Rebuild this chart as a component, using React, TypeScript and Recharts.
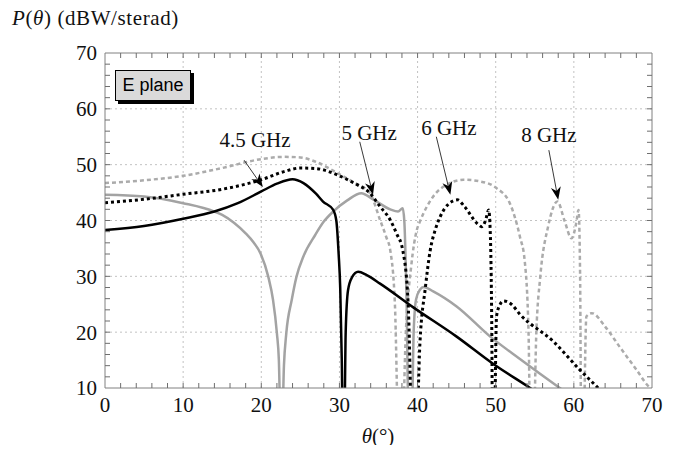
import React from 'react';
import { LineChart, Line, XAxis, YAxis, ReferenceLine, ReferenceDot } from 'recharts';

const SERIF = '"Liberation Serif", "DejaVu Serif", serif';
const SANS = '"Liberation Sans", Arial, sans-serif';
const W = 668;
const H = 437;
const M = { top: 45, right: 24, bottom: 27, left: 47 };
const X_AXIS_H = 30;
const Y_AXIS_W = 50;
const PLOT_L = M.left + Y_AXIS_W;
const PLOT_T = M.top;
const PLOT_W = W - M.left - M.right - Y_AXIS_W;
const PLOT_H = H - M.top - M.bottom - X_AXIS_H;
const FRAME = '#808080';
const TICK_COLOR = '#6e6e6e';
const GRID = '#c2c2c2';
const TICK_LEN = 5;

// axis ticks
const xMajor = [0, 10, 20, 30, 40, 50, 60, 70];
const yMajor = [10, 20, 30, 40, 50, 60, 70];
const xMinor = [2, 4, 6, 8, 10, 12, 14, 16, 18, 20, 22, 24, 26, 28, 30, 32, 34, 36, 38, 40, 42, 44, 46, 48, 50, 52, 54, 56, 58, 60, 62, 64, 66, 68];
const yMinor = [12, 14, 16, 18, 20, 22, 24, 26, 28, 30, 32, 34, 36, 38, 40, 42, 44, 46, 48, 50, 52, 54, 56, 58, 60, 62, 64, 66, 68];
const xGrid = [10, 20, 30, 40, 50, 60];
const yGrid = [20, 30, 40, 50, 60];
const X_DOMAIN = [0, 70];
const Y_DOMAIN = [10, 70];

// [theta (deg), P (dBW/sterad)]; values below 10 fall off the axis (nulls)
const f45 = [
  [0, 38.3], [5, 39], [10, 40.3], [14, 41.6], [17, 43.1], [20, 45.2], [22, 46.6], [24, 47.4],
  [25.4, 46.7], [27, 44.8], [27.9, 43.4], [29.2, 41.9], [29.6, 40], [29.9, 34], [30.1, 28],
  [30.3, 15], [30.45, 0], [30.6, 0], [30.8, 20], [31.1, 27.5], [31.6, 29.8], [32.4, 30.8],
  [33.5, 30.2], [35.2, 28.7], [39.5, 24.4], [45, 19.2], [49.7, 14.3], [54.4, 10], [56, 8.5],
];
const f5 = [
  [0, 44.6], [5, 44.3], [10, 43.1], [14, 41.6], [15, 41], [16.5, 39.6], [18, 37.7], [19, 36.1],
  [19.9, 34.1], [20.9, 29.9], [21.5, 25.8], [22, 19.8], [22.25, 15], [22.45, 5], [22.7, 5],
  [22.9, 14], [23.2, 19.8], [23.9, 25.8], [24.5, 29.9], [25.4, 33.6], [26.9, 37.4], [28, 39.8],
  [29.2, 41.6], [31, 43.6], [32.8, 44.9], [34.3, 43.8], [36.5, 42], [37.5, 41.6], [38.1, 42.2],
  [38.3, 40], [38.6, 25], [38.9, 0], [39.2, 0], [39.5, 20], [39.8, 25.8], [40.3, 27.6],
  [40.8, 28.1], [42, 27.3], [45, 24.6], [49.3, 19.2], [53.1, 15.2], [58.2, 10], [59, 9.2],
];
const f6 = [
  [0, 43.2], [5, 43.8], [10, 44.7], [15, 45.6], [20, 47.3], [23, 48.8], [25, 49.4], [27, 49.3],
  [30, 48], [32, 46.6], [33.9, 44.9], [35.2, 42.5], [36.5, 40.1], [37.3, 37.7], [38.1, 34.7],
  [38.8, 25], [39.35, 0], [39.8, 0], [40.3, 18], [41, 28], [41.6, 34.5], [42.3, 38.5],
  [42.9, 40.7], [44, 43], [45.1, 43.7], [46, 42.5], [47.6, 39.5], [48.2, 38.9], [48.7, 40],
  [49.1, 41.9], [49.3, 38], [49.5, 20], [49.6, 0], [49.8, 0], [50.1, 22.8], [50.5, 24.8],
  [51, 25.6], [52, 25], [53.1, 23.2], [57.4, 18.3], [60.8, 13.2], [63.1, 10], [64, 8.7],
];
const f8 = [
  [0, 46.7], [5, 47.2], [10, 48], [15, 49.4], [20, 51], [23, 51.4], [25, 51.3], [27, 50.5],
  [30.1, 48.2], [32, 46.7], [33.9, 44.9], [35.2, 40.1], [36, 37], [36.5, 34.7], [37.1, 25],
  [37.6, 0], [38, 0], [38.5, 20], [39.2, 32], [39.9, 38.3], [40.3, 39.8], [42, 44.3], [44, 46.6],
  [45.9, 47.3], [48, 47], [50.1, 45.8], [51.8, 43.1], [53.1, 37.1], [53.7, 32.9], [54.2, 20],
  [54.45, 0], [54.8, 0], [55.2, 20], [55.7, 29.9], [56.7, 38.9], [57.9, 43.4], [58.8, 40],
  [59.7, 36.8], [60.3, 39.5], [60.6, 41.9], [60.8, 30], [60.95, 0], [61.2, 0], [61.6, 22.8],
  [62.3, 23.4], [64, 21], [65.9, 17.3], [68, 13.3], [69.5, 10.4], [70, 9.8],
];

const toRows = (a: number[][]) => a.map(([t, p]) => ({ t, p }));

// arrow annotations in data units: label position, arrow tail, arrow tip
const notes = [
  { text: '4.5 GHz', lt: 19.2, lp: 54.4, t1: 17.8, p1: 50.8, t2: 20.2, p2: 46.0 },
  { text: '5 GHz', lt: 33.8, lp: 55.7, t1: 32.6, p1: 54.1, t2: 34.3, p2: 44.6 },
  { text: '6 GHz', lt: 44.0, lp: 56.6, t1: 42.4, p1: 55.0, t2: 44.2, p2: 44.6 },
  { text: '8 GHz', lt: 56.8, lp: 55.3, t1: 56.8, p1: 52.6, t2: 58.0, p2: 43.7 },
];

const Arrow = (props: any) => {
  const { x1, y1, x2, y2 } = props;
  const dx = x2 - x1;
  const dy = y2 - y1;
  const len = Math.hypot(dx, dy) || 1;
  const ux = dx / len;
  const uy = dy / len;
  const L = 13;
  const hw = 5;
  const bx = x2 - ux * L;
  const by = y2 - uy * L;
  const nx = x2 - ux * L * 0.7;
  const ny = y2 - uy * L * 0.7;
  return (
    <g>
      <line x1={x1} y1={y1} x2={nx} y2={ny} stroke="#222" strokeWidth={0.9} />
      <path
        d={`M${x2},${y2} L${bx - uy * hw},${by + ux * hw} L${nx},${ny} L${bx + uy * hw},${by - ux * hw} Z`}
        fill="#000"
      />
    </g>
  );
};

const NoteText = (text: string) => (props: any) => (
  <text x={props.cx} y={props.cy} textAnchor="middle" dominantBaseline="central"
    fontFamily={SERIF} fontSize={21} fill="#111">{text}</text>
);

// inward frame ticks, laid out with the same linear mapping as the chart's axes
const sx = (v: number) => PLOT_L + ((v - X_DOMAIN[0]) / (X_DOMAIN[1] - X_DOMAIN[0])) * PLOT_W;
const sy = (v: number) => PLOT_T + PLOT_H - ((v - Y_DOMAIN[0]) / (Y_DOMAIN[1] - Y_DOMAIN[0])) * PLOT_H;

const FrameTicks = () => {
  const bottom = PLOT_T + PLOT_H;
  const right = PLOT_L + PLOT_W;
  return (
    <svg width={W} height={H} style={{ position: 'absolute', left: 0, top: 0, pointerEvents: 'none' }}>
      <g stroke={TICK_COLOR} strokeWidth={1}>
        {xMinor.map((v) => (
          <g key={'x' + v}>
            <line x1={sx(v)} x2={sx(v)} y1={bottom} y2={bottom - TICK_LEN} />
            <line x1={sx(v)} x2={sx(v)} y1={PLOT_T} y2={PLOT_T + TICK_LEN} />
          </g>
        ))}
        {yMinor.map((v) => (
          <g key={'y' + v}>
            <line x1={PLOT_L} x2={PLOT_L + TICK_LEN} y1={sy(v)} y2={sy(v)} />
            <line x1={right} x2={right - TICK_LEN} y1={sy(v)} y2={sy(v)} />
          </g>
        ))}
      </g>
    </svg>
  );
};

const tickStyle = { fill: '#111', fontSize: 21, fontFamily: SERIF };

export default function App() {
  return (
    <div style={{ position: 'relative', width: W, height: H, fontFamily: SERIF, color: '#111' }}>
      <div style={{ position: 'absolute', left: 4, top: 0, fontSize: 21, lineHeight: '20px', letterSpacing: 0.6, whiteSpace: 'nowrap' }}>
        <i>P</i>(<i>θ</i>) (dBW/sterad)
      </div>
      <LineChart width={W} height={H} margin={M}>
        <XAxis dataKey="t" type="number" domain={X_DOMAIN} ticks={xMajor} interval={0} allowDataOverflow
          height={X_AXIS_H} tickLine={false} tickSize={0} tickMargin={9} axisLine={{ stroke: FRAME }} tick={tickStyle} />
        <YAxis type="number" domain={Y_DOMAIN} ticks={yMajor} interval={0} allowDataOverflow
          width={Y_AXIS_W} tickLine={false} tickSize={0} tickMargin={8} axisLine={{ stroke: FRAME }} tick={tickStyle} />

        {xGrid.map((v) => (
          <ReferenceLine key={'gx' + v} x={v} stroke={GRID} strokeDasharray="2 3" />
        ))}
        {yGrid.map((v) => (
          <ReferenceLine key={'gy' + v} y={v} stroke={GRID} strokeDasharray="2 3" />
        ))}
        <ReferenceLine x={X_DOMAIN[1]} stroke={FRAME} />
        <ReferenceLine y={Y_DOMAIN[1]} stroke={FRAME} />

        <Line data={toRows(f8)} dataKey="p" type="monotone" stroke="#ababab" strokeWidth={2.5}
          strokeDasharray="4 3" dot={false} activeDot={false} isAnimationActive={false} />
        <Line data={toRows(f5)} dataKey="p" type="monotone" stroke="#a3a3a3" strokeWidth={2.5}
          dot={false} activeDot={false} isAnimationActive={false} />
        <Line data={toRows(f6)} dataKey="p" type="monotone" stroke="#000" strokeWidth={3}
          strokeDasharray="3 3" dot={false} activeDot={false} isAnimationActive={false} />
        <Line data={toRows(f45)} dataKey="p" type="monotone" stroke="#000" strokeWidth={2.5}
          dot={false} activeDot={false} isAnimationActive={false} />

        {notes.map((n) => (
          <ReferenceLine key={'a' + n.text} segment={[{ x: n.t1, y: n.p1 }, { x: n.t2, y: n.p2 }]} shape={Arrow} />
        ))}
        {notes.map((n) => (
          <ReferenceDot key={'t' + n.text} x={n.lt} y={n.lp} r={1} shape={NoteText(n.text)} />
        ))}
      </LineChart>
      <FrameTicks />
      <div style={{
        position: 'absolute', left: 107, top: 62, width: 76, height: 31, boxSizing: 'border-box',
        border: '1px solid #000', background: '#dadada', boxShadow: '3px 3px 0 #000',
        fontFamily: SANS, fontSize: 18, lineHeight: '29px', textAlign: 'center', color: '#000',
      }}>E plane</div>
      <div style={{ position: 'absolute', left: 345, top: 416, width: 50, textAlign: 'center', fontSize: 21, lineHeight: '24px', whiteSpace: 'nowrap' }}>
        <i>θ</i>(°)
      </div>
    </div>
  );
}
